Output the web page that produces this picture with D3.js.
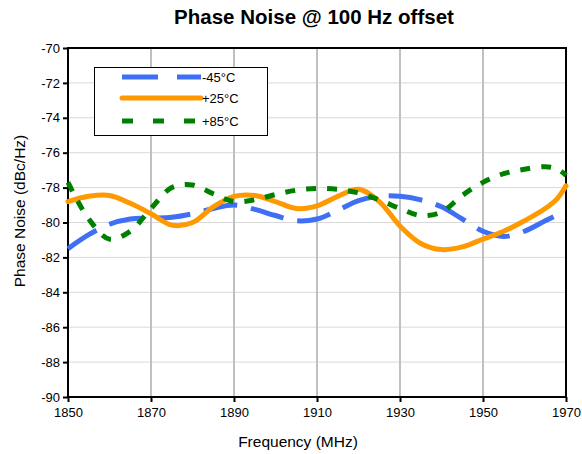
<!DOCTYPE html>
<html><head><meta charset="utf-8">
<script src="https://cdn.jsdelivr.net/npm/d3@7"></script>
<style>body{margin:0;background:#fff}svg{display:block;font-family:"Liberation Sans",Arial,sans-serif}</style>
</head><body><svg id="c" width="582" height="454"></svg>
<script>
const freqs = [1850,1855,1860,1865,1870,1875,1880,1885,1890,1895,1900,1905,1910,1915,1920,1925,1930,1935,1940,1945,1950,1955,1960,1965,1968,1970];
const seriesM45 = [-81.5,-80.7,-80.1,-79.8,-79.75,-79.7,-79.5,-79.2,-79.0,-79.25,-79.6,-79.9,-79.8,-79.3,-78.75,-78.5,-78.5,-78.7,-79.1,-79.8,-80.5,-80.8,-80.5,-79.9,-79.55,-79.3];
const seriesP25 = [-78.8,-78.5,-78.45,-78.9,-79.5,-80.15,-80.0,-79.1,-78.5,-78.45,-78.8,-79.2,-79.05,-78.5,-78.1,-78.8,-80.2,-81.2,-81.55,-81.4,-80.95,-80.5,-79.9,-79.2,-78.6,-77.9];
const seriesP85 = [-77.7,-79.8,-80.95,-80.5,-79.2,-78.0,-77.85,-78.35,-78.8,-78.7,-78.4,-78.15,-78.05,-78.1,-78.3,-78.7,-79.2,-79.6,-79.4,-78.45,-77.7,-77.2,-76.95,-76.8,-76.95,-77.3];
const seriesNames = ["-45°C","+25°C","+85°C"];
const xTicks = [1850,1870,1890,1910,1930,1950,1970];
const yTicks = [-70,-72,-74,-76,-78,-80,-82,-84,-86,-88,-90];

const svg = d3.select("#c");
const L=68,R=566,T=48,B=397;
const x = d3.scaleLinear().domain([1850,1970]).range([L,R]);
const y = d3.scaleLinear().domain([-90,-70]).range([B,T]);

// gridlines
svg.append("g").selectAll("line").data(yTicks.slice(1,-1)).join("line")
  .attr("x1",L).attr("x2",R).attr("y1",d=>y(d)).attr("y2",d=>y(d))
  .attr("stroke","#d9d9d9").attr("stroke-width",1);
svg.append("g").selectAll("line").data(xTicks.slice(1,-1)).join("line")
  .attr("y1",T).attr("y2",B).attr("x1",d=>x(d)).attr("x2",d=>x(d))
  .attr("stroke","#c0c0c0").attr("stroke-width",2);

// axes
const yAxis = svg.append("g").attr("transform",`translate(${L},0)`)
  .call(d3.axisLeft(y).tickValues(yTicks).tickSize(5).tickPadding(3).tickFormat(d=>String(d)));
const xAxis = svg.append("g").attr("transform",`translate(0,${B})`)
  .call(d3.axisBottom(x).tickValues(xTicks).tickSize(5).tickPadding(6).tickFormat(d=>String(d)));
[yAxis,xAxis].forEach(g=>{
  g.select(".domain").remove();
  g.selectAll("line").attr("stroke","#000").attr("stroke-width",2);
  g.selectAll("text").attr("font-size",13).attr("fill","#000").attr("font-family","Liberation Sans, Arial, sans-serif");
});
// plot border
svg.append("rect").attr("x",L).attr("y",T).attr("width",R-L).attr("height",B-T)
  .attr("fill","none").attr("stroke","#000").attr("stroke-width",2);

const styles = [
  {color:"#3f6ff5",dash:"34,14",w:5},
  {color:"#ff9900",dash:null,w:5},
  {color:"#008000",dash:"10,11",w:5}
];
const data = [seriesM45,seriesP25,seriesP85];
const line = d3.line().x((d,i)=>x(freqs[i])).y(d=>y(d)).curve(d3.curveCatmullRom.alpha(0.5));
data.forEach((s,i)=>{
  svg.append("path").attr("d",line(s)).attr("fill","none")
    .attr("stroke",styles[i].color).attr("stroke-width",styles[i].w)
    .attr("stroke-dasharray",styles[i].dash).attr("stroke-linecap",i===1?"round":"butt");
});

// legend
const lg = svg.append("g");
lg.append("rect").attr("x",94.5).attr("y",67.5).attr("width",173).attr("height",68)
  .attr("fill","#fff").attr("stroke","#000").attr("stroke-width",1);
const legY=[77,98,121];
const legDash=["36,19",null,"11,20"];
seriesNames.forEach((n,i)=>{
  lg.append("line").attr("x1",122).attr("x2",201).attr("y1",legY[i]).attr("y2",legY[i])
    .attr("stroke",styles[i].color).attr("stroke-width",5)
    .attr("stroke-dasharray",legDash[i]).attr("stroke-linecap",i===1?"round":"butt");
  lg.append("text").attr("x",202).attr("y",legY[i]+5).attr("font-size",13).text(n);
});

// titles
svg.append("text").attr("x",(L+R)/2-3).attr("y",24).attr("text-anchor","middle")
  .attr("font-size",20.5).attr("font-weight","bold").text("Phase Noise @ 100 Hz offset");
svg.append("text").attr("x",(L+R)/2-19).attr("y",447).attr("text-anchor","middle")
  .attr("font-size",15.5).text("Frequency (MHz)");
svg.append("text").attr("transform","translate(25,211) rotate(-90)").attr("text-anchor","middle")
  .attr("font-size",15.5).text("Phase Noise (dBc/Hz)");
</script></body></html>
